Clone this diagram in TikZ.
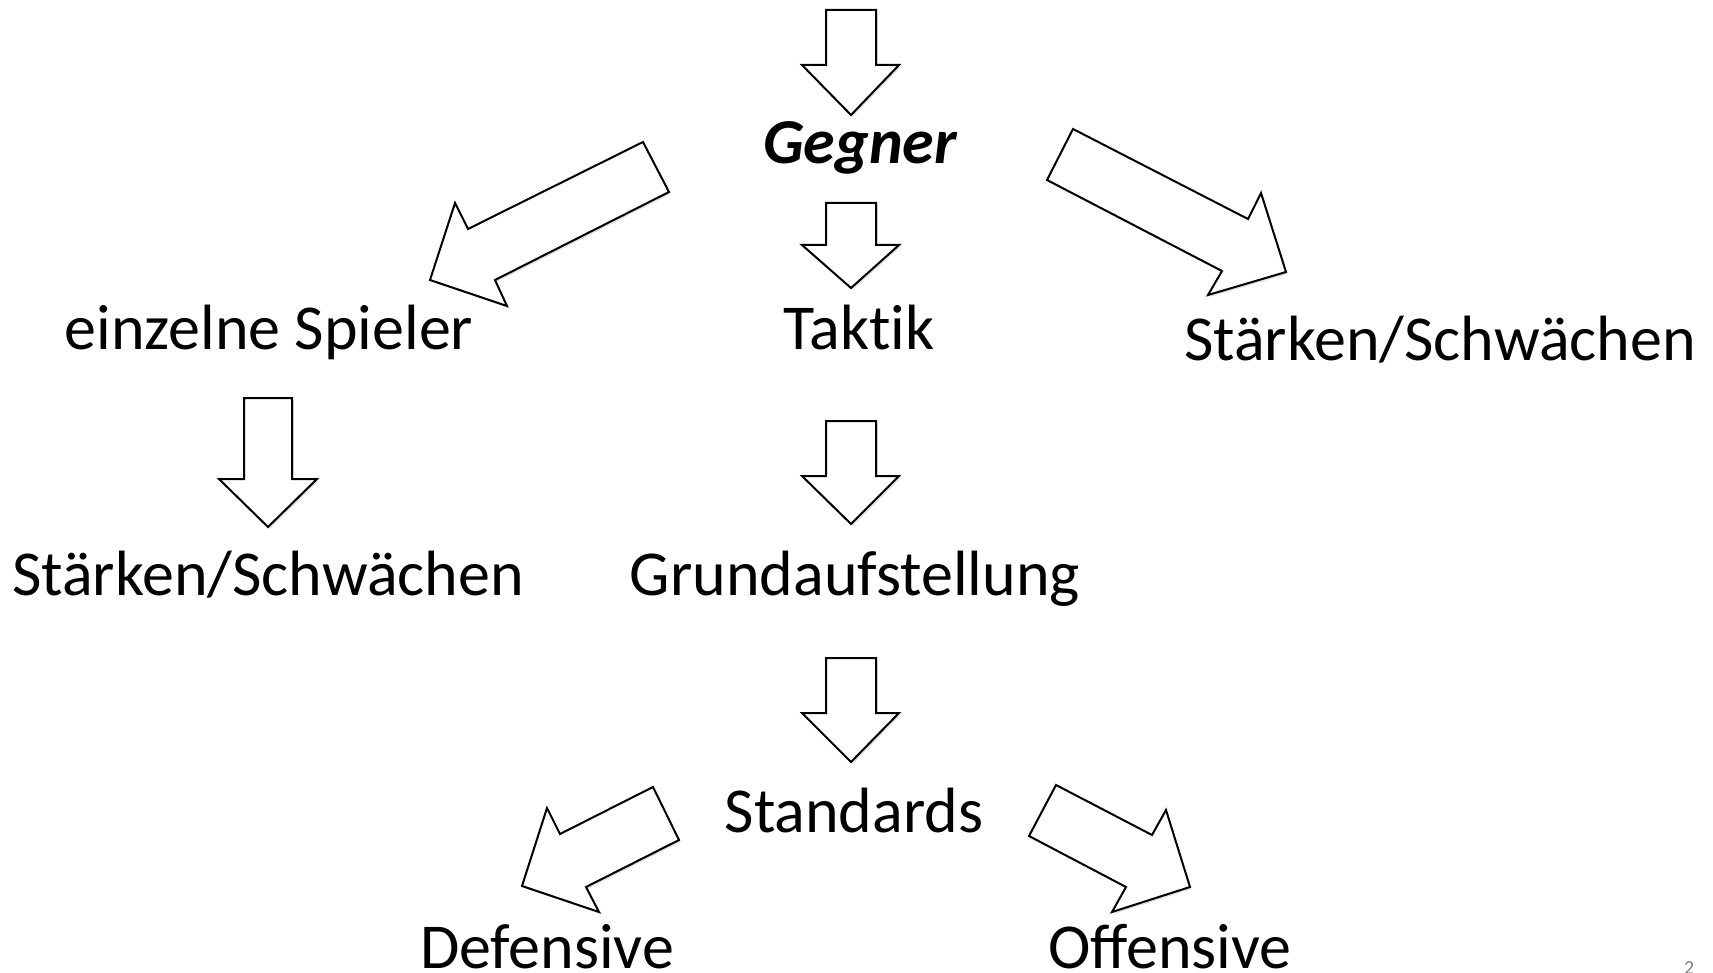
\documentclass[tikz,border=0pt]{standalone}
\usepackage{fontspec}
\setmainfont{Carlito}
\usetikzlibrary{shadows}
\tikzset{
  blockarrow/.style={draw=black, fill=white, line width=2pt, line join=miter,
    drop shadow={shadow xshift=1.5pt, shadow yshift=-2pt, opacity=0.12, fill=black}},
  label/.style={anchor=base, inner sep=0pt, font=\fontsize{64}{72}\selectfont},
}
\begin{document}
\begin{tikzpicture}[x=1pt, y=-1pt]
\useasboundingbox (0,0) rectangle (1713,973);
% vertical block arrows
\path[blockarrow] (826,10) -- (876,10) -- (876,65) -- (899,65) -- (851,115) -- (802,65) -- (826,65) -- cycle;
\path[blockarrow] (826,203) -- (876,203) -- (876,245) -- (899,245) -- (851,288) -- (802,245) -- (826,245) -- cycle;
\path[blockarrow] (244,398) -- (292,398) -- (292,479) -- (317,479) -- (268,527) -- (219,479) -- (244,479) -- cycle;
\path[blockarrow] (826,421) -- (876,421) -- (876,476) -- (899,476) -- (851,524) -- (802,476) -- (826,476) -- cycle;
\path[blockarrow] (826,658) -- (876,658) -- (876,713) -- (899,713) -- (851,762) -- (802,713) -- (826,713) -- cycle;
% diagonal block arrows
\path[blockarrow] (643,142) -- (669,192) -- (495,280) -- (507,306) -- (430,280) -- (455,203) -- (468,229) -- cycle;
\path[blockarrow] (1073,129) -- (1047,180) -- (1222,271) -- (1208,295) -- (1286,272) -- (1261,193) -- (1248,219) -- cycle;
\path[blockarrow] (653,787) -- (679,840) -- (586,887) -- (599,912) -- (522,886) -- (547,808) -- (560,834) -- cycle;
\path[blockarrow] (1056,785) -- (1029,836) -- (1126,887) -- (1112,912) -- (1190,887) -- (1166,810) -- (1152,835) -- cycle;
% texts
\node[label, font=\fontsize{64}{72}\selectfont\bfseries\itshape] (gegner) at (860,164) {Gegner};
\node[label] (spieler) at (269,350) {einzelne Spieler};
\node[label] (taktik) at (859,350) {Takt\kern0pt ik};
\node[label] (swr) at (1440,360) {Stärken/Schwächen};
\node[label] (swl) at (268,595) {Stärken/Schwächen};
\node[label] (grund) at (855,595) {Grundaufstellung};
\node[label] (standards) at (854,832) {Standards};
\node[label] (defensive) at (547,968) {Defensive};
\node[label] (offensive) at (1170,968) {Offensive};
\node[anchor=north west, inner sep=0pt, text=gray, font=\fontsize{20}{24}\selectfont] (page) at (1684,961) {2};
\end{tikzpicture}
\end{document}
